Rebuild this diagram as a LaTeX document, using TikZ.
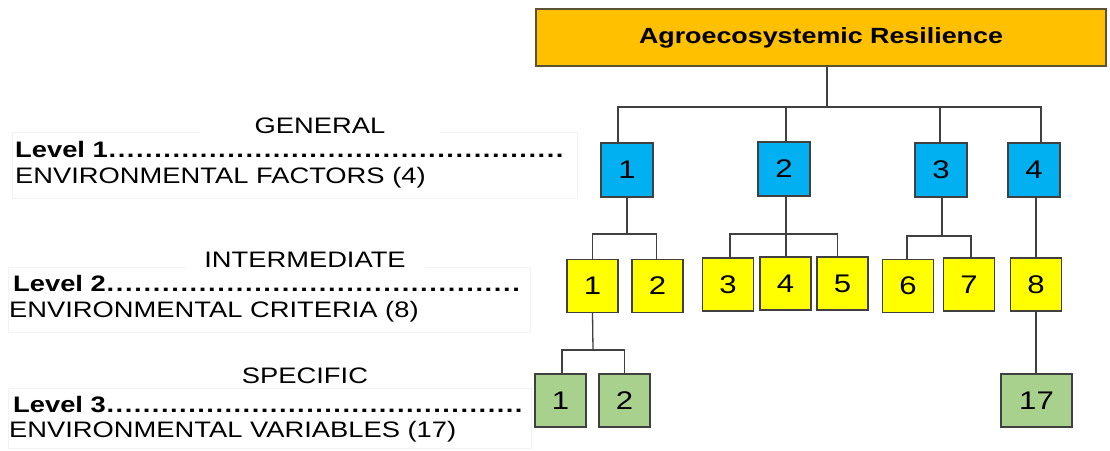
\documentclass[tikz,border=0pt]{standalone}
\usepackage{fontspec}
\setmainfont{Liberation Sans}
\usepackage{graphicx}
\definecolor{linec}{HTML}{404040}
\definecolor{rootfill}{HTML}{FFC000}
\definecolor{rootline}{HTML}{5A5232}
\definecolor{bluefill}{HTML}{00B0F0}
\definecolor{yelfill}{HTML}{FFFF00}
\definecolor{grnfill}{HTML}{A9D18E}
\definecolor{faint}{HTML}{F2F2F2}
\newcommand{\wide}[1]{\scalebox{1.22}[1]{#1}}
\newcommand{\dotrow}[2]{\wide{\hbox to #1{\bfseries #2\xleaders\hbox to 7.4pt{\hss.\hss}\hfill}}}
\begin{document}
\begin{tikzpicture}[x=1pt,y=-1pt,
  conn/.style={draw=linec, line width=1.3pt},
  boxbase/.style={draw=linec, line width=1.3pt, inner sep=0pt,
    font=\fontsize{25.5}{26}\selectfont},
  l1box/.style={boxbase, fill=bluefill, minimum width=52pt, minimum height=54pt},
  l2box/.style={boxbase, fill=yelfill, minimum width=51pt, minimum height=53pt},
  l3box/.style={boxbase, fill=grnfill, minimum height=53pt},
  lbl/.style={inner sep=0pt, anchor=base west, font=\fontsize{22.4}{26}\selectfont},
  head/.style={fill=white, inner xsep=0pt, inner ysep=3pt, minimum width=240pt,
    anchor=base, font=\fontsize{22.4}{26}\selectfont},
  faintbox/.style={draw=faint, line width=0.8pt, fill=white}
]
\useasboundingbox (0,0) rectangle (1110,450);
\fill[white] (0,0) rectangle (1110,450);

% faint text frames on the left
\draw[faintbox] (12,132) rectangle (577,198);
\draw[faintbox] (8,267) rectangle (530,332);
\draw[faintbox] (8,388) rectangle (531,448);

% left labels
\node[head] (gen) at (320,133) {\wide{GENERAL}};
\node[lbl] (lev1) at (15,157) {\dotrow{450pt}{Level 1}};
\node[lbl] (env1) at (15,183) {\wide{ENVIRONMENTAL FACTORS (4)}};

\node[head] (inter) at (305,267) {\wide{INTERMEDIATE}};
\node[lbl] (lev2) at (13,291) {\dotrow{416pt}{Level 2}};
\node[lbl] (env2) at (9,317) {\wide{ENVIRONMENTAL CRITERIA (8)}};

\node[head] (spec) at (305,383) {\wide{SPECIFIC}};
\node[lbl] (lev3) at (13,412) {\dotrow{418pt}{Level 3}};
\node[lbl] (env3) at (9,437) {\wide{ENVIRONMENTAL VARIABLES (17)}};

% root
\node[draw=rootline, line width=1.4pt, fill=rootfill, minimum width=570pt,
  minimum height=57pt, inner sep=0pt, font=\fontsize{22}{26}\selectfont\bfseries]
  (root) at (821,37.5) {\wide{Agroecosystemic Resilience}};

% level 1
\node[l1box] (b1) at (627,170) {\wide{1}};
\node[l1box] (b2) at (784,169) {\wide{2}};
\node[l1box] (b3) at (941,170) {\wide{3}};
\node[l1box] (b4) at (1034,170) {\wide{4}};

% level 2
\node[l2box] (y1) at (592.5,286) {\wide{1}};
\node[l2box] (y2) at (657.5,286) {\wide{2}};
\node[l2box] (y3) at (728,284.5) {\wide{3}};
\node[l2box] (y4) at (785.5,283.5) {\wide{4}};
\node[l2box] (y5) at (842.5,283.5) {\wide{5}};
\node[l2box] (y6) at (908,286) {\wide{6}};
\node[l2box] (y7) at (969,284.5) {\wide{7}};
\node[l2box] (y8) at (1036,284.5) {\wide{8}};

% level 3
\node[l3box, minimum width=51pt] (g1) at (560.5,400.5) {\wide{1}};
\node[l3box, minimum width=51pt] (g2) at (624.5,400.5) {\wide{2}};
\node[l3box, minimum width=71pt] (g17) at (1036.5,400.5) {\wide{17}};

% connectors root -> level 1
\coordinate (bus0) at (827,107);
\draw[conn] ([xshift=6pt]root.south) -- (bus0);
\draw[conn] (bus0) -| ([xshift=-9pt]b1.north);
\draw[conn] (bus0) -| ([xshift=2pt]b2.north);
\draw[conn] (bus0) -| ([xshift=-1pt]b3.north);
\draw[conn] (bus0) -| ([xshift=7pt]b4.north);

% level 1 -> level 2
\coordinate (bus1) at (627,234);
\draw[conn] (b1.south) -- (bus1);
\draw[conn] (bus1) -| (y1.north);
\draw[conn] (bus1) -| ([xshift=-1pt]y2.north);

\coordinate (bus2) at (786,234);
\draw[conn] ([xshift=2pt]b2.south) -- (bus2);
\draw[conn] (bus2) -| ([xshift=2pt]y3.north);
\draw[conn] (bus2) -| ([xshift=0.5pt]y4.north);
\draw[conn] (bus2) -| ([xshift=-5pt]y5.north);

\coordinate (bus3) at (942,236);
\draw[conn] ([xshift=1pt]b3.south) -- (bus3);
\draw[conn] (bus3) -| ([xshift=-1pt]y6.north);
\draw[conn] (bus3) -| ([xshift=2pt]y7.north);

\draw[conn] (y8.north) -- (y8.north |- b4.south);

% level 2 -> level 3
\coordinate (bus4) at (593,350);
\draw[conn] (y1.south) -- (bus4);
\draw[conn] (bus4) -| ([xshift=1.5pt]g1.north);
\draw[conn] (bus4) -| (g2.north);
\draw[conn] (y8.south) -- (y8.south |- g17.north);
\end{tikzpicture}
\end{document}
